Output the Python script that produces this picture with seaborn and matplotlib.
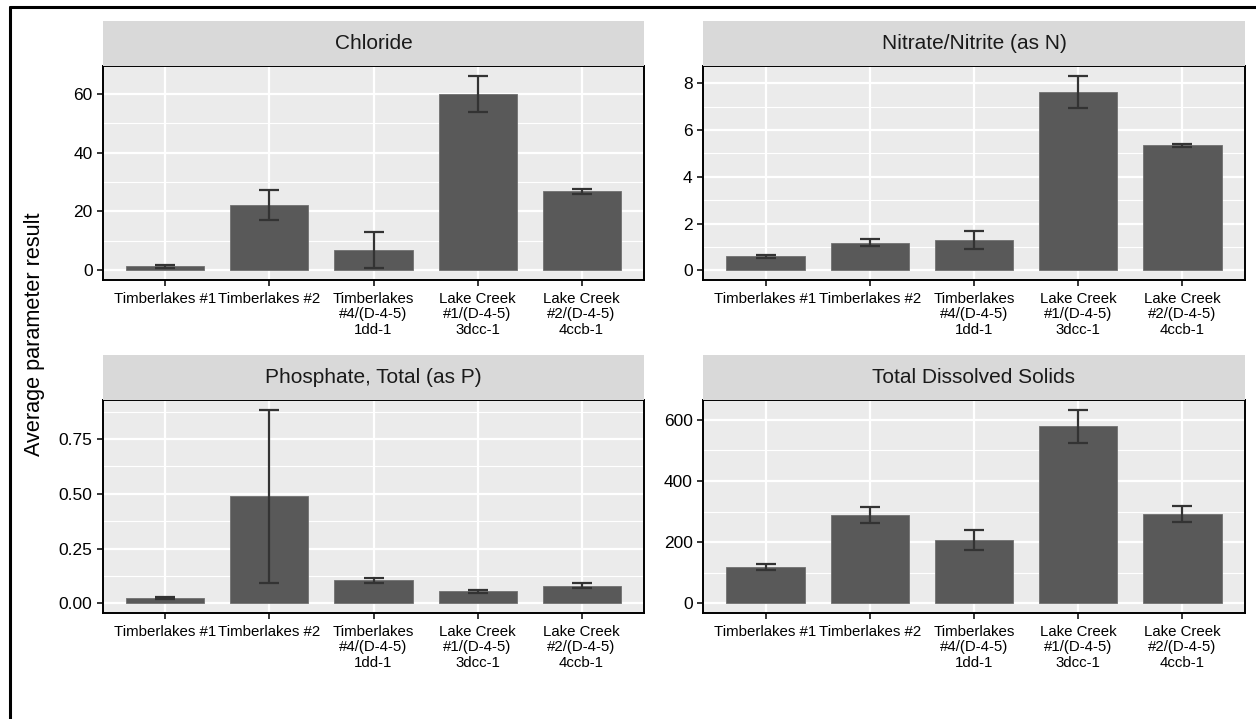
import numpy as np
import pandas as pd
import matplotlib
matplotlib.use("Agg")
import matplotlib.pyplot as plt
from matplotlib.lines import Line2D
from matplotlib.patches import Rectangle
from matplotlib.ticker import MultipleLocator
import seaborn as sns

# ---------------- data ----------------
sites = ["Timberlakes #1", "Timberlakes #2", "Timberlakes\n#4/(D-4-5)\n1dd-1",
         "Lake Creek\n#1/(D-4-5)\n3dcc-1", "Lake Creek\n#2/(D-4-5)\n4ccb-1"]

params = ["Chloride", "Nitrate/Nitrite (as N)", "Phosphate, Total (as P)", "Total Dissolved Solids"]

chloride_mean = [1.3, 22.2, 6.9, 59.9, 26.8]
chloride_se = [0.4, 5.0, 6.2, 6.2, 0.75]

nitrate_mean = [0.60, 1.18, 1.29, 7.63, 5.35]
nitrate_se = [0.06, 0.15, 0.37, 0.69, 0.06]

phosphate_mean = [0.023, 0.489, 0.105, 0.054, 0.080]
phosphate_se = [0.004, 0.395, 0.012, 0.007, 0.012]

tds_mean = [119, 289, 207, 579, 292]
tds_se = [10, 27, 32, 54, 25]

means = [chloride_mean, nitrate_mean, phosphate_mean, tds_mean]
ses = [chloride_se, nitrate_se, phosphate_se, tds_se]
major_steps = [20, 2, 0.25, 200]

y_label = "Average parameter result"

# ---------------- style ----------------
sns.set_theme(style="white")
plt.rcParams["font.family"] = ["Liberation Sans", "DejaVu Sans"]

W, H = 1256, 719
fig = plt.figure(figsize=(W / 100, H / 100), dpi=100)
fig.patch.set_facecolor("white")

col_x = [(103, 644), (703, 1245)]
row_y = [(21, 66, 280), (355, 400, 613)]  # strip top, panel top, panel bottom

for i, (pname, m, s, step) in enumerate(zip(params, means, ses, major_steps)):
    r, c = divmod(i, 2)
    x0, x1 = col_x[c]
    st, pt, pb = row_y[r]
    ax = fig.add_axes([x0 / W, 1 - pb / H, (x1 - x0) / W, (pb - pt) / H])
    df = pd.DataFrame({"site": sites, "value": m, "se": s})
    ax.set_facecolor("#EBEBEB")
    sns.barplot(data=df, x="site", y="value", ax=ax, color="#595959",
                saturation=1, width=0.75, errorbar=None,
                edgecolor="#707070", linewidth=0.6, zorder=3)
    xs = np.arange(len(sites))
    ax.errorbar(xs, df["value"], yerr=df["se"], fmt="none", ecolor="#333333",
                elinewidth=1.6, capsize=7.5, capthick=1.6, zorder=4)
    lo = min(0, float(np.min(np.array(m) - np.array(s))))
    hi = float(np.max(np.array(m) + np.array(s)))
    pad = 0.05 * (hi - lo)
    ax.set_ylim(lo - pad, hi + pad)
    ax.set_xlim(-0.6, len(sites) - 0.4)
    ax.yaxis.set_major_locator(MultipleLocator(step))
    ax.yaxis.set_minor_locator(MultipleLocator(step / 2))
    if step < 1:
        ax.yaxis.set_major_formatter(matplotlib.ticker.FormatStrFormatter("%.2f"))
    ax.grid(which="major", axis="both", color="white", linewidth=1.6, zorder=0)
    ax.grid(which="minor", axis="y", color="white", linewidth=0.8, zorder=0)
    ax.set_axisbelow(True)
    ax.set_xlabel("")
    ax.set_ylabel("")
    for sp in ax.spines.values():
        sp.set_visible(True)
        sp.set_color("black")
        sp.set_linewidth(1.4)
    ax.tick_params(axis="y", which="major", length=4.5, width=1.1, color="black",
                   labelsize=12.5, labelcolor="black", pad=3, left=True)
    ax.tick_params(axis="y", which="minor", length=0, left=False)
    ax.tick_params(axis="x", which="major", length=4.5, width=1.1, color="black",
                   labelsize=10.8, labelcolor="black", pad=4, bottom=True)
    for lab in ax.get_xticklabels():
        lab.set_linespacing(1.13)
    # strip
    fig.add_artist(Rectangle((x0 / W, 1 - pt / H), (x1 - x0) / W, (pt - st) / H,
                             transform=fig.transFigure, facecolor="#D9D9D9",
                             edgecolor="none", zorder=1))
    fig.text((x0 + x1) / 2 / W, 1 - (st + pt) / 2 / H, pname, ha="center",
             va="center", fontsize=15, color="#1A1A1A")

fig.text(35 / W, 1 - 334 / H, y_label, rotation=90, ha="center", va="center",
         fontsize=15.6, color="black")

# outer frame (left and top edges visible)
fig.add_artist(Line2D([10 / W, 10 / W], [0, 1 - 7 / H], transform=fig.transFigure,
                      color="black", linewidth=2.2))
fig.add_artist(Line2D([10 / W, 1], [1 - 7 / H, 1 - 7 / H], transform=fig.transFigure,
                      color="black", linewidth=2.2))

fig.savefig("out.png", dpi=100, facecolor="white")
